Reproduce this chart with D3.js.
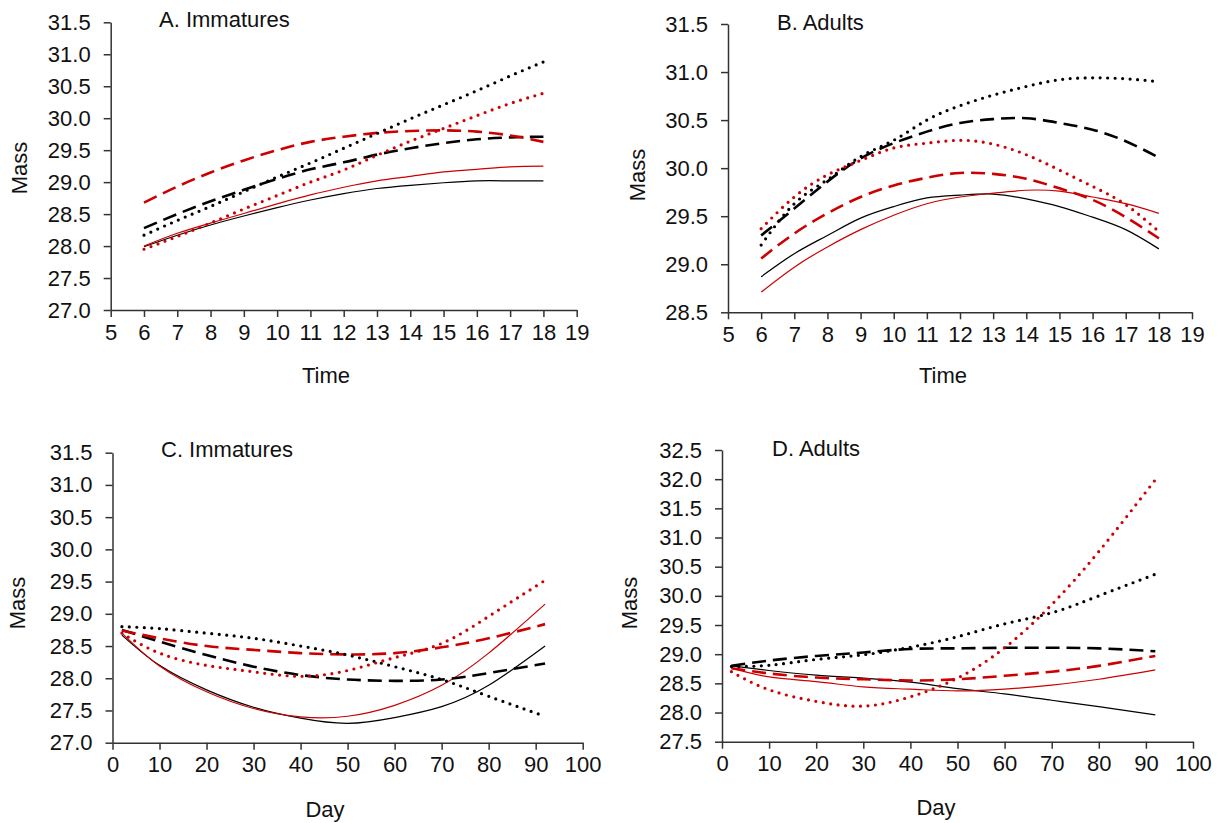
<!DOCTYPE html>
<html>
<head>
<meta charset="utf-8">
<script src="https://cdn.jsdelivr.net/npm/d3@7"></script>
<style>
  body { margin: 0; background: #fff; }
  svg { display: block; font-family: "Liberation Sans", Arial, sans-serif; }
  .axis path, .axis line { stroke: #333; stroke-width: 1.5; }
  .axis text { font-size: 22px; fill: #111; }
  .lbl { font-size: 22px; fill: #111; }
</style>
</head>
<body>
<svg id="chart" width="1225" height="823"></svg>
<script>
// sampling points
const hours = [6, 7, 8, 9, 10, 11, 12, 13, 14, 15, 16, 17, 18];
const days = [2, 10, 20, 30, 40, 50, 60, 70, 80, 92];

// A. Immatures (by time of day)
const aBlackSolid  = [27.99, 28.17, 28.33, 28.47, 28.60, 28.72, 28.82, 28.90, 28.95, 28.99, 29.02, 29.02, 29.02];
const aRedSolid    = [28.00, 28.20, 28.36, 28.51, 28.66, 28.80, 28.92, 29.02, 29.09, 29.16, 29.20, 29.24, 29.25];
const aBlackDashed = [28.28, 28.50, 28.70, 28.88, 29.05, 29.20, 29.31, 29.43, 29.53, 29.61, 29.67, 29.70, 29.71];
const aRedDashed   = [28.68, 28.93, 29.15, 29.34, 29.50, 29.63, 29.71, 29.77, 29.80, 29.81, 29.79, 29.73, 29.63];
const aBlackDotted = [28.17, 28.40, 28.62, 28.85, 29.08, 29.30, 29.53, 29.76, 29.99, 30.21, 30.43, 30.66, 30.88];
const aRedDotted   = [27.95, 28.15, 28.36, 28.58, 28.79, 29.00, 29.19, 29.42, 29.64, 29.84, 30.04, 30.23, 30.39];

// B. Adults (by time of day)
const bBlackSolid  = [28.87, 29.11, 29.30, 29.48, 29.60, 29.69, 29.72, 29.73, 29.68, 29.60, 29.49, 29.36, 29.16];
const bRedSolid    = [28.71, 28.97, 29.18, 29.36, 29.51, 29.63, 29.70, 29.74, 29.77, 29.76, 29.70, 29.63, 29.53];
const bBlackDashed = [29.30, 29.58, 29.86, 30.10, 30.26, 30.38, 30.47, 30.51, 30.52, 30.47, 30.40, 30.28, 30.11];
const bRedDashed   = [29.06, 29.32, 29.53, 29.70, 29.82, 29.90, 29.95, 29.94, 29.89, 29.79, 29.67, 29.49, 29.27];
const bBlackDotted = [29.20, 29.63, 29.88, 30.12, 30.29, 30.50, 30.65, 30.76, 30.85, 30.92, 30.94, 30.93, 30.90];
const bRedDotted   = [29.37, 29.70, 29.93, 30.08, 30.21, 30.26, 30.29, 30.25, 30.14, 29.98, 29.81, 29.62, 29.34];

// C. Immatures (by day)
const cBlackSolid  = [28.67, 28.20, 27.82, 27.55, 27.38, 27.30, 27.39, 27.56, 27.89, 28.50];
const cRedSolid    = [28.70, 28.19, 27.79, 27.53, 27.40, 27.41, 27.58, 27.89, 28.39, 29.15];
const cBlackDashed = [28.75, 28.57, 28.36, 28.18, 28.05, 27.98, 27.96, 27.98, 28.08, 28.23];
const cRedDashed   = [28.74, 28.62, 28.50, 28.44, 28.39, 28.37, 28.39, 28.48, 28.62, 28.84];
const cBlackDotted = [28.80, 28.77, 28.70, 28.62, 28.50, 28.36, 28.18, 27.98, 27.72, 27.41];
const cRedDotted   = [28.70, 28.39, 28.20, 28.10, 28.03, 28.12, 28.32, 28.54, 28.96, 29.52];

// D. Adults (by day)
const dBlackSolid  = [28.80, 28.72, 28.64, 28.59, 28.52, 28.41, 28.32, 28.21, 28.10, 27.96];
const dRedSolid    = [28.76, 28.61, 28.53, 28.44, 28.40, 28.37, 28.40, 28.47, 28.57, 28.73];
const dBlackDashed = [28.80, 28.89, 28.97, 29.03, 29.09, 29.10, 29.11, 29.11, 29.10, 29.05];
const dRedDashed   = [28.76, 28.67, 28.60, 28.57, 28.55, 28.57, 28.63, 28.70, 28.80, 28.97];
const dBlackDotted = [28.79, 28.81, 28.91, 28.99, 29.12, 29.30, 29.52, 29.71, 30.00, 30.37];
const dRedDotted   = [28.70, 28.39, 28.19, 28.11, 28.27, 28.59, 29.11, 29.85, 30.76, 31.99];

// axis ticks
const hourTicks = d3.range(5, 20);
const dayTicks = [0, 10, 20, 30, 40, 50, 60, 70, 80, 90, 100];
const massTicksA = d3.range(27, 31.51, 0.5);
const massTicksB = d3.range(28.5, 31.51, 0.5);
const massTicksC = d3.range(27, 31.51, 0.5);
const massTicksD = d3.range(27.5, 32.51, 0.5);

const RED = '#cc0000';
const styles = {
  blackSolid:  {color: '#000', width: 1.2, dash: null},
  redSolid:    {color: RED,    width: 1.2, dash: null},
  blackDashed: {color: '#000', width: 2.6, dash: '14,7', cap: 'butt'},
  redDashed:   {color: RED,    width: 2.6, dash: '14,7', cap: 'butt'},
  blackDotted: {color: '#000', width: 3.2, dash: '0,7.5', cap: 'round'},
  redDotted:   {color: RED,    width: 3.2, dash: '0,7.5', cap: 'round'}
};

const panels = [
  {title: 'A. Immatures', xlab: 'Time', xs: hours, xdom: [5, 19], xticks: hourTicks,
   ydom: [27, 31.5], yticks: massTicksA, box: [110.7, 576.7, 22.3, 310],
   titlePos: [159, 27], massPos: [19, 168], xlabPos: [326, 383],
   series: {blackSolid: aBlackSolid, redSolid: aRedSolid, blackDashed: aBlackDashed,
            redDashed: aRedDashed, blackDotted: aBlackDotted, redDotted: aRedDotted}},
  {title: 'B. Adults', xlab: 'Time', xs: hours, xdom: [5, 19], xticks: hourTicks,
   ydom: [28.5, 31.5], yticks: massTicksB, box: [728, 1192, 24, 312.3],
   titlePos: [777, 30], massPos: [637, 175], xlabPos: [943, 383],
   series: {blackSolid: bBlackSolid, redSolid: bRedSolid, blackDashed: bBlackDashed,
            redDashed: bRedDashed, blackDotted: bBlackDotted, redDotted: bRedDotted}},
  {title: 'C. Immatures', xlab: 'Day', xs: days, xdom: [0, 100], xticks: dayTicks,
   ydom: [27, 31.5], yticks: massTicksC, box: [112.5, 582.7, 452.7, 742.7],
   titlePos: [161, 457], massPos: [17, 603], xlabPos: [325, 817],
   series: {blackSolid: cBlackSolid, redSolid: cRedSolid, blackDashed: cBlackDashed,
            redDashed: cRedDashed, blackDotted: cBlackDotted, redDotted: cRedDotted}},
  {title: 'D. Adults', xlab: 'Day', xs: days, xdom: [0, 100], xticks: dayTicks,
   ydom: [27.5, 32.5], yticks: massTicksD, box: [722, 1193, 450, 741.7],
   titlePos: [772, 456], massPos: [629, 603], xlabPos: [936, 815],
   series: {blackSolid: dBlackSolid, redSolid: dRedSolid, blackDashed: dBlackDashed,
            redDashed: dRedDashed, blackDotted: dBlackDotted, redDotted: dRedDotted}}
];

const svg = d3.select('#chart');

panels.forEach(p => {
  const [x0, x1, y0, y1] = p.box;
  const x = d3.scaleLinear().domain(p.xdom).range([x0, x1]);
  const y = d3.scaleLinear().domain(p.ydom).range([y1, y0]);
  const g = svg.append('g');

  // axes
  g.append('g').attr('class', 'axis').attr('transform', `translate(0,${y1})`)
    .call(d3.axisBottom(x).tickValues(p.xticks).tickSize(7).tickSizeOuter(0).tickPadding(6).tickFormat(d3.format('d')))
    .call(a => a.selectAll('text').attr('dy', '0.75em'));
  g.append('g').attr('class', 'axis').attr('transform', `translate(${x0},0)`)
    .call(d3.axisLeft(y).tickValues(p.yticks).tickSize(7).tickSizeOuter(0).tickPadding(13).tickFormat(d3.format('.1f')));

  // fitted curves, smoothed between the read points
  const line = d3.line().x((d, i) => x(p.xs[i])).y(d => y(d)).curve(d3.curveNatural);
  Object.keys(p.series).forEach(k => {
    const s = styles[k];
    g.append('path').datum(p.series[k])
      .attr('d', line)
      .attr('fill', 'none')
      .attr('stroke', s.color)
      .attr('stroke-width', s.width)
      .attr('stroke-dasharray', s.dash)
      .attr('stroke-linecap', s.cap || 'butt');
  });

  // labels
  g.append('text').attr('class', 'lbl').attr('x', p.titlePos[0]).attr('y', p.titlePos[1]).text(p.title);
  g.append('text').attr('class', 'lbl').attr('text-anchor', 'middle')
    .attr('x', p.xlabPos[0]).attr('y', p.xlabPos[1]).text(p.xlab);
  g.append('text').attr('class', 'lbl').attr('text-anchor', 'middle').attr('dy', '0.35em')
    .attr('transform', `translate(${p.massPos[0]},${p.massPos[1]}) rotate(-90)`).text('Mass');
});
</script>
</body>
</html>
